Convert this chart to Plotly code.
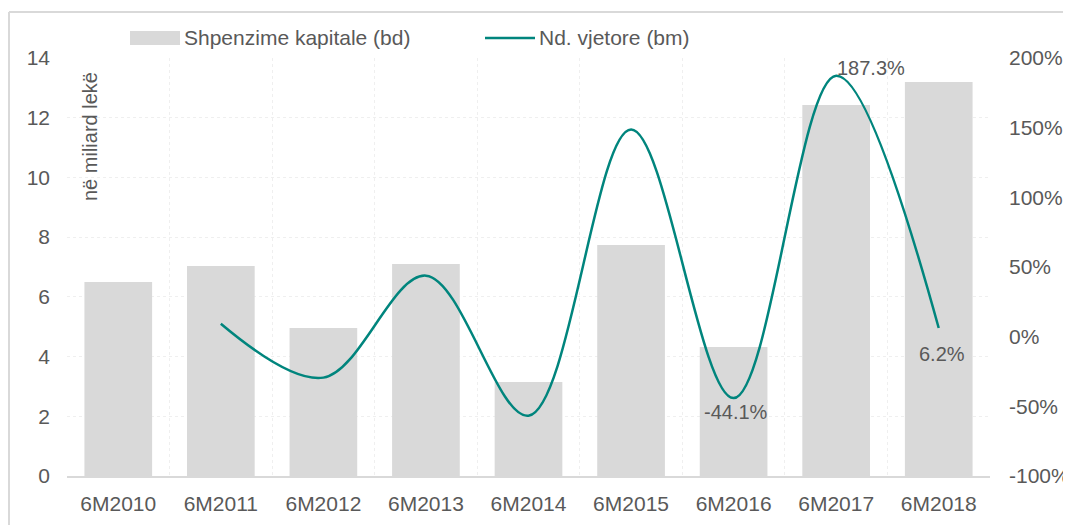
import plotly.graph_objects as go

categories = ["6M2010", "6M2011", "6M2012", "6M2013", "6M2014", "6M2015", "6M2016", "6M2017", "6M2018"]
capital_spending = [6.50, 7.03, 4.96, 7.10, 3.15, 7.74, 4.32, 12.43, 13.20]
annual_change = [None, 0.093, -0.294, 0.438, -0.567, 1.486, -0.441, 1.873, 0.062]
bar_name = "Shpenzime kapitale (bd)"
line_name = "Nd. vjetore (bm)"
y_title = "në miliard lekë"
labelled = {"6M2016": "-44.1%", "6M2017": "187.3%", "6M2018": "6.2%"}
right_tickvals = [-1.0, -0.5, 0.0, 0.5, 1.0, 1.5, 2.0]
right_ticktext = ["-100%", "-50%", "0%", "50%", "100%", "150%", "200%"]

FONT = "Liberation Sans, Arial, sans-serif"
TXT = "#595959"
BAR = "#d9d9d9"
LINE = "#00857d"
FS = 21

# page body has an 8px margin; screen plot area: x 67..990, y 58..476
OFF = 8
W, H = 923, 418
L, T = 67 - OFF, 58 - OFF

fig = go.Figure()
fig.add_trace(go.Bar(x=categories, y=capital_spending, name=bar_name,
                     marker=dict(color=BAR, line=dict(width=0)), yaxis="y"))
fig.add_trace(go.Scatter(x=categories, y=annual_change, name=line_name, mode="lines",
                         line=dict(color=LINE, width=2.5, shape="spline", smoothing=1.0),
                         connectgaps=False, yaxis="y2"))

shifts = {"6M2016": (2, -14), "6M2017": (35, 8), "6M2018": (3, -26)}
for cat, txt in labelled.items():
    i = categories.index(cat)
    dx, dy = shifts[cat]
    fig.add_annotation(x=cat, y=annual_change[i], xref="x", yref="y2", text=txt,
                       showarrow=False, xshift=dx, yshift=dy,
                       font=dict(family=FONT, size=20, color=TXT))


def px(x):
    return (x - 67) / W


def py(y):
    return (476 - y) / H


fig.add_annotation(x=px(90), y=py(137), xref="paper", yref="paper", text=y_title,
                   textangle=-90, showarrow=False, xanchor="center", yanchor="middle",
                   font=dict(family=FONT, size=20, color=TXT))

# custom legend
fig.add_shape(type="rect", xref="paper", yref="paper", x0=px(130), x1=px(180),
              y0=py(45), y1=py(31), fillcolor=BAR, line=dict(width=0))
fig.add_annotation(x=px(182), y=py(38), xref="paper", yref="paper", text=bar_name,
                   xanchor="left", yanchor="middle", showarrow=False,
                   font=dict(family=FONT, size=FS, color=TXT))
fig.add_shape(type="line", xref="paper", yref="paper", x0=px(485), x1=px(535),
              y0=py(38), y1=py(38), line=dict(color=LINE, width=2.5))
fig.add_annotation(x=px(537), y=py(38), xref="paper", yref="paper", text=line_name,
                   xanchor="left", yanchor="middle", showarrow=False,
                   font=dict(family=FONT, size=FS, color=TXT))

# frame
fig.add_shape(type="line", xref="paper", yref="paper", x0=px(9), x1=px(9),
              y0=py(12), y1=py(540), line=dict(color="#d9d9d9", width=2))
fig.add_shape(type="line", xref="paper", yref="paper", x0=px(9), x1=px(1090),
              y0=py(12), y1=py(12), line=dict(color="#d9d9d9", width=2))

fig.update_layout(
    width=1071, height=525,
    margin=dict(l=L, r=1071 - L - W, t=T, b=525 - T - H, pad=0, autoexpand=False),
    paper_bgcolor="white", plot_bgcolor="white",
    showlegend=False, bargap=0.34,
    font=dict(family=FONT, size=FS, color=TXT),
    xaxis=dict(type="category", tickson="boundaries", showgrid=True,
               gridcolor="#efefef", griddash="dot", showline=True, linecolor="#d9d9d9",
               linewidth=2, ticks="", tickfont=dict(size=FS, color=TXT),
               ticklabelstandoff=8),
    yaxis=dict(range=[0, 14], dtick=2, showgrid=True, gridcolor="#efefef", griddash="dot",
               zeroline=False, ticks="", tickfont=dict(size=FS, color=TXT),
               ticklabelstandoff=16),
    yaxis2=dict(range=[-1, 2], tickvals=right_tickvals, ticktext=right_ticktext,
                overlaying="y", side="right",
                showgrid=False, zeroline=False, ticks="", tickfont=dict(size=FS, color=TXT),
                ticklabelstandoff=18),
)
fig.write_html("out.html")
